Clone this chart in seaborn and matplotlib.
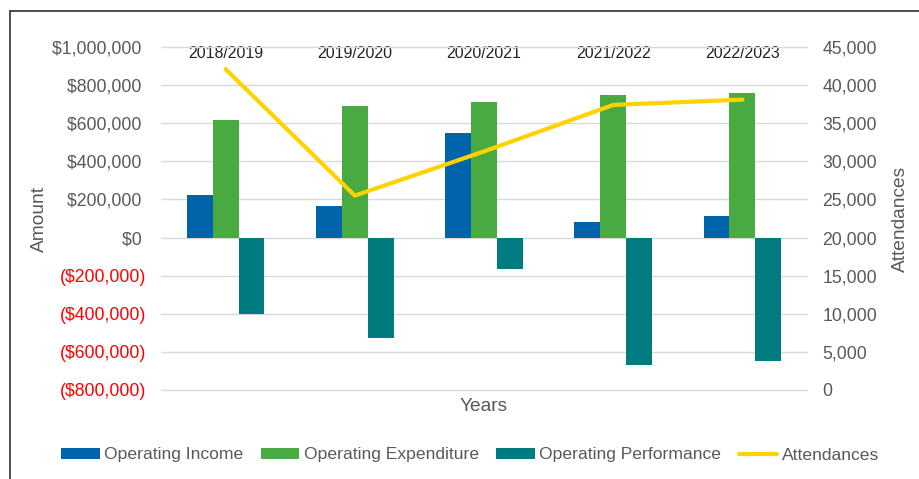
import numpy as np
import pandas as pd
import matplotlib
matplotlib.use("Agg")
import matplotlib.pyplot as plt
from matplotlib.lines import Line2D
from matplotlib.patches import Patch
from matplotlib.ticker import FuncFormatter
import seaborn as sns

# Financial year summary
years = ["2018/2019", "2019/2020", "2020/2021", "2021/2022", "2022/2023"]
operating_income = [222000, 166000, 550000, 80000, 112000]
operating_expenditure = [617000, 691000, 710000, 747000, 758000]
operating_performance = [-400000, -527000, -165000, -670000, -648000]
attendances = [42100, 25500, 31300, 37400, 38100]

series_names = ["Operating Income", "Operating Expenditure", "Operating Performance"]
series_colors = ["#0064AA", "#4AAA42", "#007B80"]
line_color = "#FFD200"
text_gray = "#595959"

amount_ticks = list(range(-800000, 1000001, 200000))
attendance_ticks = list(range(0, 45001, 5000))

df = pd.DataFrame({
    "Years": years * 3,
    "Series": [s for s in series_names for _ in years],
    "Amount": operating_income + operating_expenditure + operating_performance,
})

sns.set_theme(style="white")
plt.rcParams["font.family"] = ["Liberation Sans", "DejaVu Sans"]

fig = plt.figure(figsize=(9.19, 4.79), dpi=100)
ax = fig.add_axes([161 / 919, 1 - 390 / 479, (807 - 161) / 919, (390 - 47) / 479])

sns.barplot(data=df, x="Years", y="Amount", hue="Series", order=years,
            hue_order=series_names, palette=series_colors, width=0.6,
            linewidth=0, saturation=1, ax=ax, legend=False)

ax.set_xlim(-0.5, len(years) - 0.5)
ax.set_ylim(amount_ticks[0], amount_ticks[-1])
ax.set_yticks(amount_ticks)


def money(v, _pos=None):
    # accounting style: negatives in brackets, positives padded to line up
    return f"(${abs(v):,.0f})" if v < 0 else f"${v:,.0f} "


ax.yaxis.set_major_formatter(FuncFormatter(money))
ax.tick_params(axis="y", length=0, pad=10.5, labelsize=12.7)
for lbl, v in zip(ax.get_yticklabels(), amount_ticks):
    lbl.set_color("#FF0000" if v < 0 else text_gray)

ax.grid(axis="y", color="#D9D9D9", linewidth=1)
for gl in ax.get_ygridlines():
    gl.set_clip_on(False)
ax.set_axisbelow(True)
for sp in ax.spines.values():
    sp.set_visible(False)

# Category labels sit along the top, inside the plot area
ax.xaxis.tick_top()
ax.tick_params(axis="x", length=0, pad=-10, labelsize=11.4, labelcolor="#222222")
ax.xaxis.set_label_position("bottom")
ax.set_xlabel("Years", fontsize=13.8, color=text_gray, labelpad=6)
ax.set_ylabel("Amount", fontsize=13.8, color=text_gray, labelpad=3)

# Attendances on the secondary axis
ax2 = ax.twinx()
sns.lineplot(x=np.arange(len(years)), y=attendances, color=line_color,
             linewidth=3, ax=ax2)
ax2.set_ylim(attendance_ticks[0], attendance_ticks[-1])
ax2.set_yticks(attendance_ticks)
ax2.yaxis.set_major_formatter(FuncFormatter(lambda v, p: f"{v:,.0f}"))
ax2.tick_params(axis="y", length=0, pad=11, labelsize=12.7, labelcolor=text_gray)
ax2.set_ylabel("Attendances", fontsize=13.8, color=text_gray, labelpad=11)
for sp in ax2.spines.values():
    sp.set_visible(False)
ax2.grid(False)

handles = [Patch(facecolor=c, edgecolor="none") for c in series_colors]
handles.append(Line2D([0], [0], color=line_color, linewidth=3))
fig.legend(handles, series_names + ["Attendances"], loc="center",
           bbox_to_anchor=(470 / 919, 1 - 455 / 479), ncol=4, frameon=False,
           fontsize=12.6, handlelength=2.2, handleheight=0.6, handletextpad=0.25,
           columnspacing=1.0, labelcolor=text_gray)

# Chart frame
frame_kw = dict(color="#404040", linewidth=1.3, transform=fig.transFigure)
fig.add_artist(Line2D([10 / 919, 10 / 919], [0, 1 - 11 / 479], **frame_kw))
fig.add_artist(Line2D([10 / 919, 1], [1 - 11 / 479, 1 - 11 / 479], **frame_kw))

fig.savefig("out.png", dpi=100)
